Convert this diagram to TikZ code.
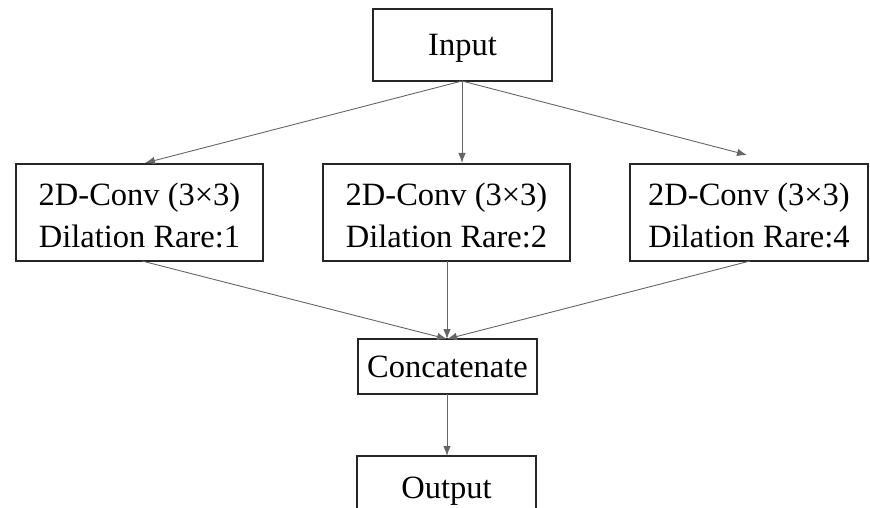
\documentclass[tikz,border=0pt]{standalone}
\usepackage{fontspec}
\setmainfont{Liberation Serif}
\usetikzlibrary{arrows.meta}
\begin{document}
\begin{tikzpicture}[x=1pt,y=-1pt,
  blk/.style={draw=black!85, line width=1.4pt, inner sep=0pt},
  txt/.style={align=center, font=\fontsize{32.5}{42}\selectfont, inner sep=0pt},
  conn/.style={draw=black!60, line width=0.9pt, -{Latex[length=10pt,width=7.5pt]}}]
\useasboundingbox (0,0) rectangle (870,508);
\clip (0,0) rectangle (870,508);
\node[blk, minimum width=179pt, minimum height=72pt,
  label={[txt, yshift=-3.5pt]center:Input}] (in) at (462.5,45) {};
\node[blk, minimum width=247pt, minimum height=97pt,
  label={[txt, yshift=-3pt]center:2D-Conv (3×3)\\Dilation Rare:1}] (c1) at (139.5,212.5) {};
\node[blk, minimum width=247pt, minimum height=97pt,
  label={[txt, yshift=-3pt]center:2D-Conv (3×3)\\Dilation Rare:2}] (c2) at (446.5,212.5) {};
\node[blk, minimum width=238pt, minimum height=97pt,
  label={[txt, yshift=-3pt]center:2D-Conv (3×3)\\Dilation Rare:4}] (c3) at (749,212.5) {};
\node[blk, minimum width=179pt, minimum height=55pt,
  label={[txt]center:Concatenate}] (cat) at (447.5,366.5) {};
\node[blk, minimum width=179pt, minimum height=70pt,
  label={[txt]center:Output}] (out) at (446.5,491) {};
\coordinate (inb) at (462,81);
\coordinate (t1) at (145,163);
\coordinate (t2) at (462,163);
\coordinate (t3) at (747,155);
\coordinate (b1) at (142,261);
\coordinate (b2) at (447,261);
\coordinate (b3) at (750,261);
\coordinate (catt) at (447,339);
\coordinate (catb) at (447,394);
\coordinate (outt) at (447,456);
\draw[conn] (inb) -- (t1);
\draw[conn] (inb) -- (t2);
\draw[conn] (inb) -- (t3);
\draw[conn] (b1) -- (catt);
\draw[conn] (b2) -- (catt);
\draw[conn] (b3) -- (catt);
\draw[conn] (catb) -- (outt);
\end{tikzpicture}
\end{document}
